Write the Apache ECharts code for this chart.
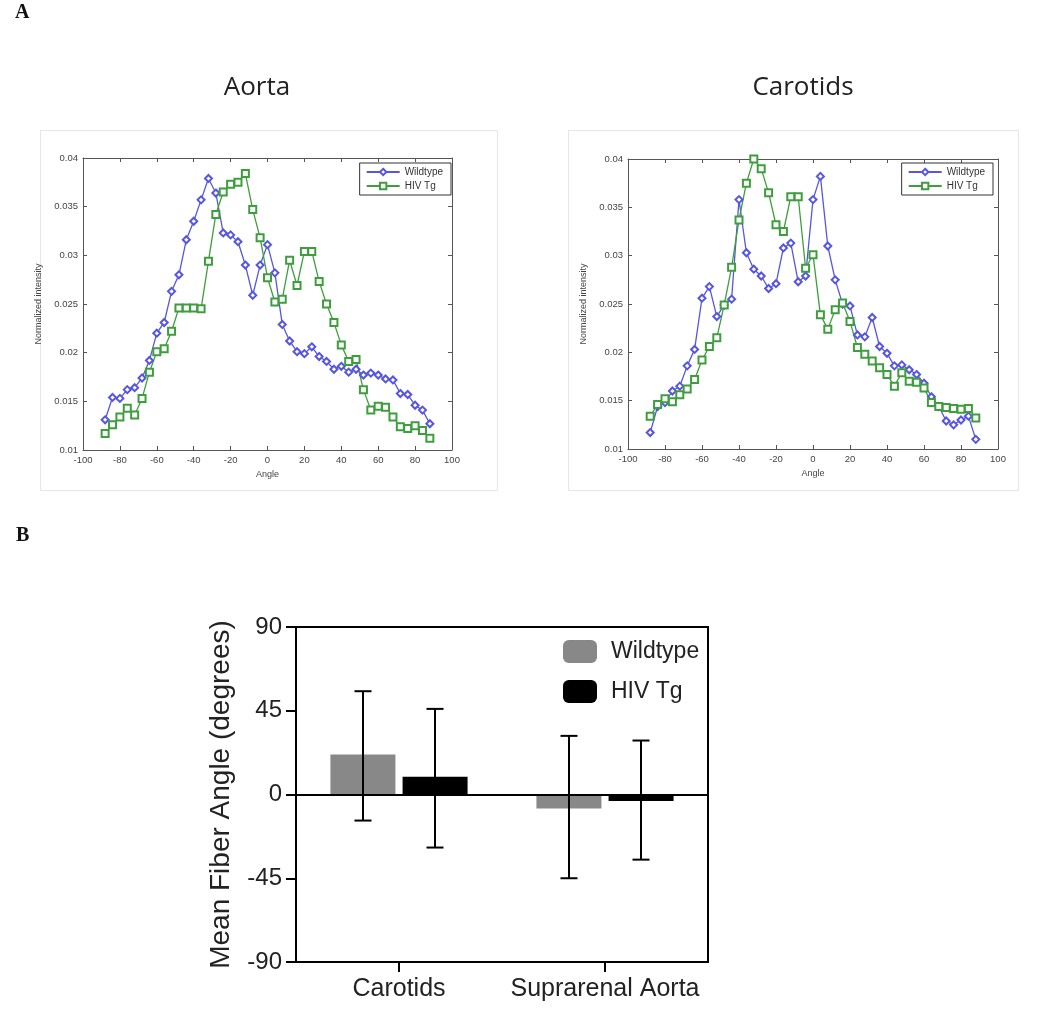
<!DOCTYPE html>
<html><head><meta charset="utf-8">
<script src="https://cdn.jsdelivr.net/npm/echarts@6/dist/echarts.min.js"></script>
<style>
body{margin:0;background:#fff;width:1050px;height:1010px;position:relative;overflow:hidden}
.c{position:absolute}
</style></head><body>
<div id="c1" class="c" style="left:0;top:0;width:525px;height:520px"></div>
<div id="c2" class="c" style="left:525px;top:0;width:525px;height:520px"></div>
<div id="c3" class="c" style="left:0;top:520px;width:1050px;height:490px"></div>
<script>
// ---- Data: panel A ----
const angles = [-88,-84,-80,-76,-72,-68,-64,-60,-56,-52,-48,-44,-40,-36,-32,-28,-24,-20,-16,-12,-8,-4,0,4,8,12,16,20,24,28,32,36,40,44,48,52,56,60,64,68,72,76,80,84,88];
const aortaWildtype = [0.0131,0.0154,0.0153,0.0162,0.0164,0.0174,0.0192,0.0220,0.0231,0.0263,0.0280,0.0316,0.0335,0.0357,0.0379,0.0364,0.0323,0.0321,0.0314,0.0290,0.0259,0.0290,0.0311,
  0.0282,0.0229,0.0212,0.0201,0.0199,0.0206,0.0196,0.0191,0.0183,0.0186,0.0180,0.0183,0.0177,0.0179,0.0177,0.0173,0.0172,0.0158,0.0157,0.0146,0.0141,0.0127];
const aortaHIV = [0.0117,0.0126,0.0134,0.0143,0.0136,0.0153,0.0180,0.0201,0.0204,0.0222,0.0246,0.0246,0.0246,0.0245,0.0294,0.0342,0.0365,0.0373,0.0375,0.0384,0.0347,0.0318,0.0277,
  0.0252,0.0255,0.0295,0.0269,0.0304,0.0304,0.0273,0.0250,0.0231,0.0208,0.0191,0.0193,0.0162,0.0141,0.0145,0.0144,0.0134,0.0124,0.0122,0.0125,0.0120,0.0112];
const carotidWildtype = [0.0117,0.0144,0.0148,0.0160,0.0165,0.0186,0.0203,0.0256,0.0268,0.0237,0.0249,0.0255,0.0358,0.0303,0.0286,0.0279,0.0266,0.0271,0.0308,0.0313,0.0273,0.0279,0.0358,
  0.0382,0.0310,0.0275,0.0250,0.0248,0.0218,0.0216,0.0236,0.0206,0.0199,0.0186,0.0187,0.0182,0.0177,0.0168,0.0154,0.0144,0.0129,0.0125,0.0130,0.0134,0.0110];
const carotidHIV = [0.0134,0.0146,0.0152,0.0149,0.0156,0.0162,0.0172,0.0192,0.0206,0.0215,0.0249,0.0288,0.0337,0.0375,0.0400,0.0390,0.0365,0.0332,0.0325,0.0361,0.0361,0.0287,0.0301,
  0.0239,0.0224,0.0244,0.0251,0.0232,0.0205,0.0198,0.0191,0.0184,0.0177,0.0165,0.0179,0.0170,0.0169,0.0163,0.0148,0.0144,0.0143,0.0142,0.0141,0.0142,0.0132];
const seriesNames = ['Wildtype', 'HIV Tg'];

// ---- Data: panel B ----
const barCategories = ['Carotids', 'Suprarenal Aorta'];
const wildtypeMean = [21.5, -7.5];
const hivMean = [9.5, -3.5];
const wildtypeLow = [-14, -45];
const wildtypeHigh = [55.5, 31.5];
const hivLow = [-28.5, -35];
const hivHigh = [46, 29];

const blue = '#5656e0', green = '#3e9e3e';
const smallFont = 'Liberation Sans, Arial, sans-serif';

function pairs(ys) { return angles.map((a, i) => [a, ys[i]]); }

function lineOption(cfg) {
  const axisCommon = {
    min: -100, max: 100, interval: 20,
    axisLine: { show: true, onZero: false, lineStyle: { color: '#555', width: 1 } },
    axisTick: { show: true, inside: true, length: 4, lineStyle: { color: '#555' } },
    splitLine: { show: false }
  };
  const yCommon = {
    min: 0.01, max: 0.04, interval: 0.005,
    axisLine: { show: true, onZero: false, lineStyle: { color: '#555', width: 1 } },
    axisTick: { show: true, inside: true, length: 4, lineStyle: { color: '#555' } },
    splitLine: { show: false }
  };
  return {
    animation: false,
    title: {
      text: cfg.title, left: cfg.titleX, top: 72, textAlign: 'center', padding: 0,
      textStyle: { fontFamily: 'Open Sans, sans-serif', fontSize: 26, fontWeight: 'normal', color: '#222', lineHeight: 32 }
    },
    graphic: cfg.graphic,
    grid: { left: cfg.grid.left, top: cfg.grid.top, width: cfg.grid.width, height: cfg.grid.height },
    legend: {
      orient: 'vertical', right: cfg.legendRight, top: 163,
      data: seriesNames,
      borderColor: '#333', borderWidth: 1, padding: [4, 8, 4, 6], itemGap: 4,
      itemWidth: 33, itemHeight: 8,
      textStyle: { fontFamily: smallFont, fontSize: 10, color: '#333' }
    },
    xAxis: [
      Object.assign({ type: 'value', position: 'bottom',
        name: 'Angle', nameLocation: 'middle', nameGap: 18,
        nameTextStyle: { fontFamily: smallFont, fontSize: 9, color: '#444' },
        axisLabel: { fontFamily: smallFont, fontSize: 9.5, color: '#444', margin: 5 } }, axisCommon),
      Object.assign({ type: 'value', position: 'top', axisLabel: { show: false } }, axisCommon)
    ],
    yAxis: [
      Object.assign({ type: 'value', position: 'left',
        name: 'Normalized intensity', nameLocation: 'middle', nameGap: 38,
        nameTextStyle: { fontFamily: smallFont, fontSize: 9, color: '#444' },
        axisLabel: { fontFamily: smallFont, fontSize: 9.5, color: '#444', margin: 5 } }, yCommon),
      Object.assign({ type: 'value', position: 'right', axisLabel: { show: false } }, yCommon)
    ],
    series: [
      { name: seriesNames[0], type: 'line', data: pairs(cfg.wt), symbol: 'emptyDiamond', symbolSize: 7,
        lineStyle: { color: blue, width: 1.3 }, itemStyle: { color: blue, borderWidth: 1 } },
      { name: seriesNames[1], type: 'line', data: pairs(cfg.hiv), symbol: 'emptyRect', symbolSize: 7,
        lineStyle: { color: green, width: 1.3 }, itemStyle: { color: green, borderWidth: 1 } }
    ]
  };
}

const c1 = echarts.init(document.getElementById('c1'));
c1.setOption(lineOption({
  title: 'Aorta', titleX: 257,
  grid: { left: 83, top: 158, width: 369, height: 292 },
  legendRight: 74,
  wt: aortaWildtype, hiv: aortaHIV,
  graphic: [
    { type: 'rect', shape: { x: 40.5, y: 130.5, width: 457, height: 360 }, style: { fill: 'none', stroke: '#e6e6e6', lineWidth: 1 }, z: -1 },
    { type: 'text', left: 15, top: 3, style: { text: 'A', font: 'bold 20px "Liberation Serif", serif', fill: '#111' } }
  ]
}));

const c2 = echarts.init(document.getElementById('c2'));
c2.setOption(lineOption({
  title: 'Carotids', titleX: 278,
  grid: { left: 103, top: 159, width: 370, height: 290 },
  legendRight: 57,
  wt: carotidWildtype, hiv: carotidHIV,
  graphic: [
    { type: 'rect', shape: { x: 43.5, y: 130.5, width: 450, height: 360 }, style: { fill: 'none', stroke: '#e6e6e6', lineWidth: 1 }, z: -1 }
  ]
}));

// ---- Panel B ----
const barFont = 'Liberation Sans, Arial, sans-serif';
function errData(lo, hi) { return barCategories.map((c, i) => [i, lo[i], hi[i]]); }
function errSeries(name, lo, hi, offset) {
  return {
    name: name + ' error', type: 'custom', z: 10, silent: true,
    data: errData(lo, hi),
    encode: { x: 0, y: [1, 2] },
    renderItem: function (params, api) {
      const i = api.value(0);
      const pLo = api.coord([i, api.value(1)]);
      const pHi = api.coord([i, api.value(2)]);
      const x = pLo[0] + offset, cap = 8.5;
      const st = { stroke: '#000', lineWidth: 2 };
      return { type: 'group', children: [
        { type: 'line', shape: { x1: x, y1: pLo[1], x2: x, y2: pHi[1] }, style: st },
        { type: 'line', shape: { x1: x - cap, y1: pLo[1], x2: x + cap, y2: pLo[1] }, style: st },
        { type: 'line', shape: { x1: x - cap, y1: pHi[1], x2: x + cap, y2: pHi[1] }, style: st }
      ]};
    }
  };
}

const c3 = echarts.init(document.getElementById('c3'));
c3.setOption({
  animation: false,
  graphic: [
    { type: 'text', left: 16, top: 6, style: { text: 'B', font: 'bold 20px "Liberation Serif", serif', fill: '#111' } }
  ],
  grid: { left: 296, top: 107, width: 412, height: 335, show: true, borderColor: '#000', borderWidth: 2, backgroundColor: 'transparent' },
  legend: {
    orient: 'vertical', left: 563, top: 120, data: seriesNames,
    icon: 'roundRect', itemWidth: 34, itemHeight: 23, itemGap: 17, padding: 0,
    textStyle: { fontFamily: barFont, fontSize: 23, color: '#222', padding: [0, 0, 0, 9] }
  },
  xAxis: {
    type: 'category', data: barCategories,
    axisLine: { show: true, onZero: false, lineStyle: { color: '#000', width: 2 } },
    axisTick: { show: true, alignWithLabel: true, length: 10, lineStyle: { color: '#000', width: 2 } },
    axisLabel: { fontFamily: barFont, fontSize: 25, color: '#222', margin: 15, interval: 0 }
  },
  yAxis: {
    type: 'value', min: -90, max: 90, interval: 45,
    name: 'Mean Fiber Angle (degrees)', nameLocation: 'middle', nameGap: 61,
    nameTextStyle: { fontFamily: barFont, fontSize: 28, color: '#222' },
    axisLine: { show: true, lineStyle: { color: '#000', width: 2 } },
    axisTick: { show: true, length: 10, lineStyle: { color: '#000', width: 2 } },
    axisLabel: { fontFamily: barFont, fontSize: 24, color: '#222', margin: 14 },
    splitLine: { show: false }
  },
  series: [
    { name: seriesNames[0], type: 'bar', data: wildtypeMean, barWidth: 65, barGap: '11%',
      itemStyle: { color: '#888' },
      markLine: { silent: true, symbol: 'none', label: { show: false },
        lineStyle: { color: '#000', width: 2, type: 'solid' }, data: [{ yAxis: 0 }] } },
    { name: seriesNames[1], type: 'bar', data: hivMean, barWidth: 65, barGap: '11%',
      itemStyle: { color: '#000' } },
    errSeries('Wildtype', wildtypeLow, wildtypeHigh, -36),
    errSeries('HIV Tg', hivLow, hivHigh, 36)
  ]
});
</script>
</body></html>
